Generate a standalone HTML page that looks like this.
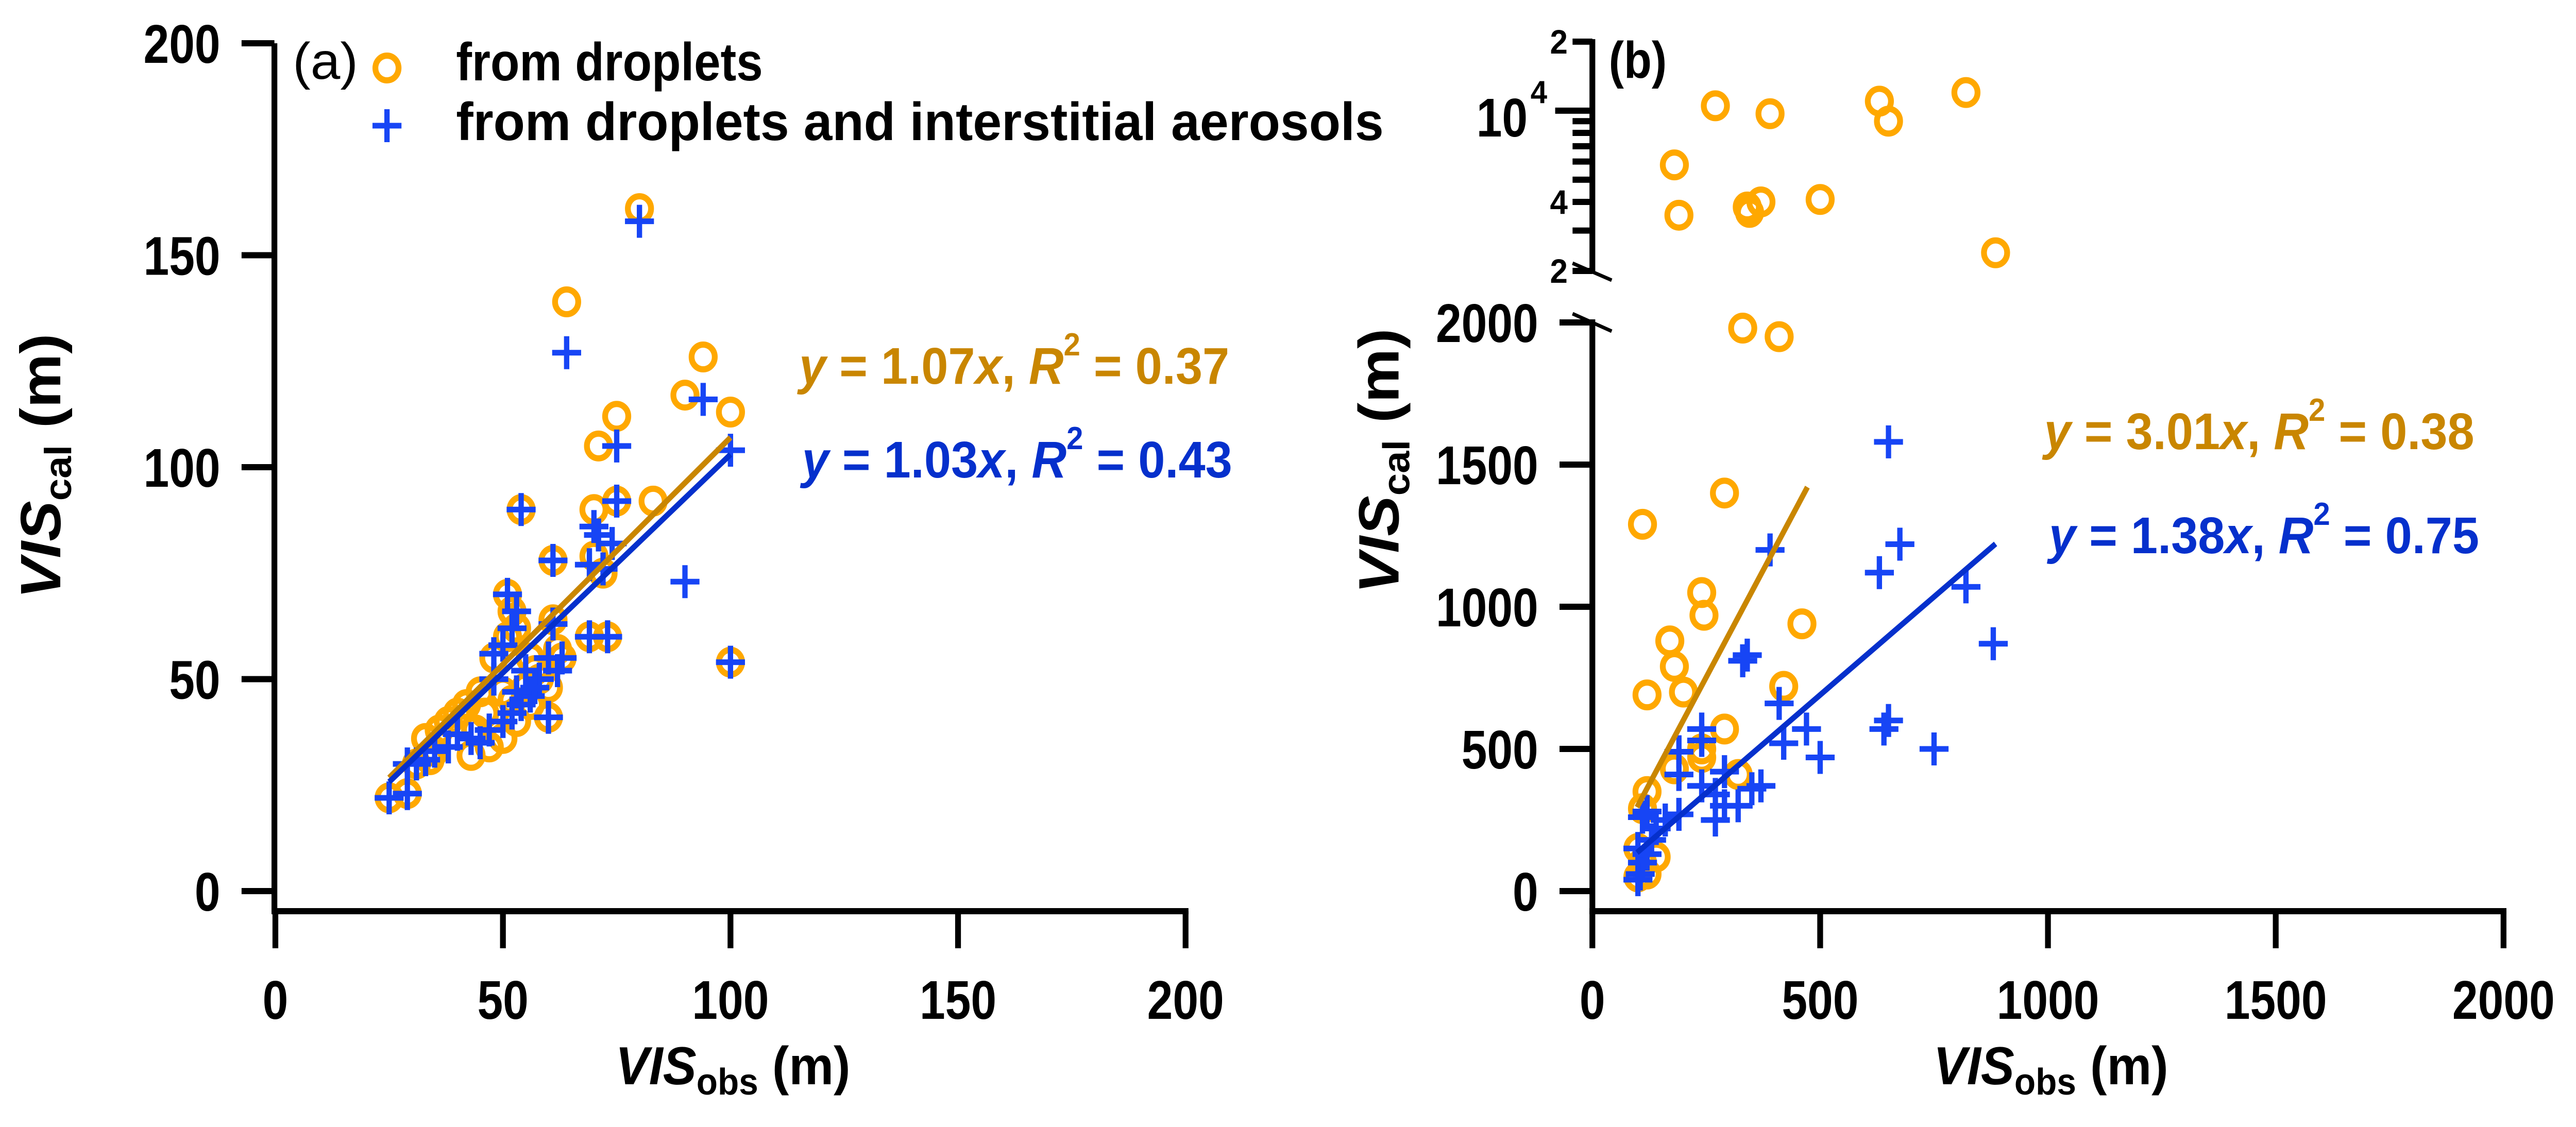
<!DOCTYPE html>
<html><head><meta charset="utf-8">
<style>
html,body{margin:0;padding:0;background:#fff;width:100vw;height:100vh;overflow:hidden;position:relative;}
svg.full{position:absolute;left:0;top:0;width:100vw;height:100vh;display:block;}
text{font-family:"Liberation Sans",sans-serif;font-weight:bold;}
</style></head>
<body>
<svg id="chart" class="full" xmlns="http://www.w3.org/2000/svg" viewBox="0 0 5332 2188" preserveAspectRatio="none">
<g id="pa"></g>
<g id="pb"></g>
</svg>
<script>
// ---------- Panel A data ----------
const aDropX = [80,64,94,90,75,100,71,70,75,83,54,61,70,72,51,52,53,51,61,56,63,69,73,100,60,60,55,50,45,42,40,38,36,33,35,43,47,50,53,56,58,48,25,29,31,34,44,46,52,57,62];
const aDropY = [161,139,126,117,112,113,105,90,92,92,90,78,79,75,70,66,62,60,64,55,55,60,60,54,41,48,48,47,47,44,42,40,38,36,33,32,34,36,40,44,50,55,22,23,30,31,38,42,45,52,57];
const aAllX = [80,64,94,75,100,75,70,71,74,54,61,69,72,51,53,52,50,48,61,63,69,73,100,90,60,58,56,54,52,50,47,45,43,40,38,35,33,31,29,25,29,48,55,57,53,60,62];
const aAllY = [158,127,116,105,104,92,86,84,82,90,78,77,76,70,66,62,58,56,63,55,60,60,54,73,41,50,46,44,42,40,38,35,36,37,34,33,31,30,30,22,23,50,52,48,47,55,52];
const aTicks = [0,50,100,150,200];
const aFitDrop = [25,100,1.07];
const aFitAll = [25,100,1.03];
// ---------- Panel B data ----------
const bDropX = [270,390,630,650,820,180,190,340,345,370,500,885,330,410,290,110,240,245,170,180,200,120,460,420,290,240,240,180,320,120,110,100,110,100,120,140];
const bDropY = [10500,9700,11000,9000,12000,5800,3500,3800,3600,4000,4100,2400,1980,1950,1400,1290,1050,970,880,790,700,690,940,720,570,500,470,430,410,350,290,150,100,50,60,120];
const bAllX = [650,675,630,390,820,880,340,330,410,470,420,500,750,640,650,240,240,190,190,240,270,270,290,320,290,350,370,190,160,140,120,110,100,110,105,100,130,120];
const bAllY = [1580,1220,1120,1200,1070,870,830,810,660,570,520,470,500,570,600,570,530,490,410,370,340,250,300,300,420,360,370,270,250,220,280,260,150,100,60,40,180,130];
const bXTicks = [0,500,1000,1500,2000];
const bYTicks = [0,500,1000,1500,2000];
const bFitDrop = [98,472,3.01];
const bFitAll = [98,885,1.38];

const NS="http://www.w3.org/2000/svg";
const ORANGE="#FFA800", BLUE="#1745F5", ORF="#C98600", BLF="#0530CC";
function mk(p,tag,attrs,txt){const e=document.createElementNS(NS,tag);for(const k in attrs)e.setAttribute(k,attrs[k]);if(txt!==undefined)e.textContent=txt;p.appendChild(e);return e;}

const ax=v=>570+v*(2454-570)/200;
const ay=v=>1730-v*(1730-84)/200;
const A=document.getElementById('pa');
let e;
e=mk(A,'line',{x1:568,y1:84,x2:568,y2:1775,stroke:'#000','stroke-width':12});


e=mk(A,'line',{x1:562,y1:1769,x2:2460,y2:1769,stroke:'#000','stroke-width':12});


aTicks.forEach(t=>{
  e=mk(A,'line',{x1:500,y1:ay(t),x2:568,y2:ay(t),stroke:'#000','stroke-width':12});
  
  
  e=mk(A,'text',{x:456,y:ay(t)+38,'font-size':106,'text-anchor':'end',textLength:String(t).length*53,lengthAdjust:'spacingAndGlyphs'},String(t));
  
  
  e=mk(A,'line',{x1:ax(t),y1:1769,x2:ax(t),y2:1841,stroke:'#000','stroke-width':12});
  
  
  e=mk(A,'text',{x:ax(t),y:1978,'font-size':106,'text-anchor':'middle',textLength:String(t).length*53,lengthAdjust:'spacingAndGlyphs'},String(t));
  
  
});
function circ(p,x,y,name){const c=mk(p,'circle',{cx:x,cy:y,r:24,fill:'none',stroke:ORANGE,'stroke-width':12});}
function plus(p,x,y,name){const g=mk(p,'path',{d:`M${x-30},${y}H${x+30}M${x},${y-32}V${y+32}`,stroke:BLUE,'stroke-width':11,fill:'none'});}
aDropX.forEach((v,i)=>circ(A,ax(v),ay(aDropY[i]),'a-droplet-point'));
aAllX.forEach((v,i)=>plus(A,ax(v),ay(aAllY[i]),'a-total-point'));
e=mk(A,'line',{x1:ax(aFitDrop[0]),y1:ay(aFitDrop[0]*aFitDrop[2]),x2:ax(aFitDrop[1]),y2:ay(aFitDrop[1]*aFitDrop[2]),stroke:ORF,'stroke-width':11});


e=mk(A,'line',{x1:ax(aFitAll[0]),y1:ay(aFitAll[0]*aFitAll[2]),x2:ax(aFitAll[1]),y2:ay(aFitAll[1]*aFitAll[2]),stroke:BLF,'stroke-width':11});



const bx=v=>3296+v*(5182-3296)/2000;
const by=v=>1730-v*(1730-626)/2000;
const byl=v=>526-134*Math.log2(v/2000);
const B=document.getElementById('pb');
e=mk(B,'line',{x1:3296,y1:76,x2:3296,y2:528,stroke:'#000','stroke-width':12});


e=mk(B,'line',{x1:3296,y1:620,x2:3296,y2:1775,stroke:'#000','stroke-width':12});


e=mk(B,'path',{d:'M3255,511L3336,544M3255,609L3336,643',stroke:'#000','stroke-width':7,fill:'none'});


e=mk(B,'line',{x1:3290,y1:1769,x2:5188,y2:1769,stroke:'#000','stroke-width':12});


bYTicks.forEach(t=>{
  e=mk(B,'line',{x1:3228,y1:by(t),x2:3296,y2:by(t),stroke:'#000','stroke-width':12});
  
  
  e=mk(B,'text',{x:3184,y:by(t)+38,'font-size':106,'text-anchor':'end',textLength:String(t).length*53,lengthAdjust:'spacingAndGlyphs'},String(t));
  
  
});
bXTicks.forEach(t=>{
  e=mk(B,'line',{x1:bx(t),y1:1769,x2:bx(t),y2:1841,stroke:'#000','stroke-width':12});
  
  
  e=mk(B,'text',{x:bx(t),y:1978,'font-size':106,'text-anchor':'middle',textLength:String(t).length*53,lengthAdjust:'spacingAndGlyphs'},String(t));
  
  
});
[2000,3000,4000,5000,6000,7000,8000,9000,20000].forEach(t=>{
  e=mk(B,'line',{x1:3255,y1:byl(t),x2:3296,y2:byl(t),stroke:'#000','stroke-width':12});
  
  
});
e=mk(B,'line',{x1:3219,y1:byl(10000),x2:3296,y2:byl(10000),stroke:'#000','stroke-width':12});


[[2000,'2'],[4000,'4'],[20000,'2']].forEach(([v,s])=>{
  e=mk(B,'text',{x:3245,y:byl(v)+23,'font-size':66,'text-anchor':'end'},s);
  
  
});
e=mk(B,'text',{x:3162,y:265,'font-size':106,'text-anchor':'end',textLength:106,lengthAdjust:'spacingAndGlyphs'},'10');


e=mk(B,'text',{x:3168,y:200,'font-size':62},'4');


const byAny=v=>v>2000?byl(v):by(v);
bDropX.forEach((v,i)=>circ(B,bx(v),byAny(bDropY[i]),'b-droplet-point'));
bAllX.forEach((v,i)=>plus(B,bx(v),byAny(bAllY[i]),'b-total-point'));
e=mk(B,'line',{x1:bx(bFitDrop[0]),y1:by(bFitDrop[0]*bFitDrop[2]),x2:bx(bFitDrop[1]),y2:by(bFitDrop[1]*bFitDrop[2]),stroke:ORF,'stroke-width':11});


e=mk(B,'line',{x1:bx(bFitAll[0]),y1:by(bFitAll[0]*bFitAll[2]),x2:bx(bFitAll[1]),y2:by(bFitAll[1]*bFitAll[2]),stroke:BLF,'stroke-width':11});


</script>
<svg class="full" viewBox="0 0 5332 2188" preserveAspectRatio="none" xmlns="http://www.w3.org/2000/svg">
<text x="606" y="153" font-size="100" style="font-weight:normal" textLength="135" lengthAdjust="spacingAndGlyphs">(a)</text>
<circle cx="801" cy="132" r="24" fill="none" stroke="#FFA800" stroke-width="12"/>
<text x="944" y="156" font-size="104" textLength="635" lengthAdjust="spacingAndGlyphs">from droplets</text>
<path d="M771,244H831M801,212V276" stroke="#1745F5" stroke-width="11"/>
<text x="944" y="272" font-size="104" textLength="1920" lengthAdjust="spacingAndGlyphs">from droplets and interstitial aerosols</text>
<text x="1654" y="745" font-size="100" fill="#C98600"><tspan font-style="italic">y</tspan> = 1.07<tspan font-style="italic">x</tspan>, <tspan font-style="italic">R</tspan><tspan dy="-55" font-size="62">2</tspan><tspan dy="55"> = 0.37</tspan></text>
<text x="1660" y="927" font-size="100" fill="#0530CC"><tspan font-style="italic">y</tspan> = 1.03<tspan font-style="italic">x</tspan>, <tspan font-style="italic">R</tspan><tspan dy="-55" font-size="62">2</tspan><tspan dy="55"> = 0.43</tspan></text>
<text transform="translate(125,905) rotate(-90)" text-anchor="middle" font-size="118"><tspan font-style="italic">VIS</tspan><tspan font-size="78" dy="22">cal</tspan><tspan dy="-22"> (m)</tspan></text>
<text x="1517" y="2105" text-anchor="middle" font-size="104"><tspan font-style="italic">VIS</tspan><tspan font-size="72" dy="20">obs</tspan><tspan dy="-20"> (m)</tspan></text>
<text x="3330" y="151" font-size="100" textLength="120" lengthAdjust="spacingAndGlyphs">(b)</text>
<text x="4231" y="872" font-size="100" fill="#C98600"><tspan font-style="italic">y</tspan> = 3.01<tspan font-style="italic">x</tspan>, <tspan font-style="italic">R</tspan><tspan dy="-55" font-size="62">2</tspan><tspan dy="55"> = 0.38</tspan></text>
<text x="4241" y="1074" font-size="100" fill="#0530CC"><tspan font-style="italic">y</tspan> = 1.38<tspan font-style="italic">x</tspan>, <tspan font-style="italic">R</tspan><tspan dy="-55" font-size="62">2</tspan><tspan dy="55"> = 0.75</tspan></text>
<text transform="translate(2895,895) rotate(-90)" text-anchor="middle" font-size="118"><tspan font-style="italic">VIS</tspan><tspan font-size="78" dy="22">cal</tspan><tspan dy="-22"> (m)</tspan></text>
<text x="4245" y="2105" text-anchor="middle" font-size="104"><tspan font-style="italic">VIS</tspan><tspan font-size="72" dy="20">obs</tspan><tspan dy="-20"> (m)</tspan></text>
</svg>
</body></html>
